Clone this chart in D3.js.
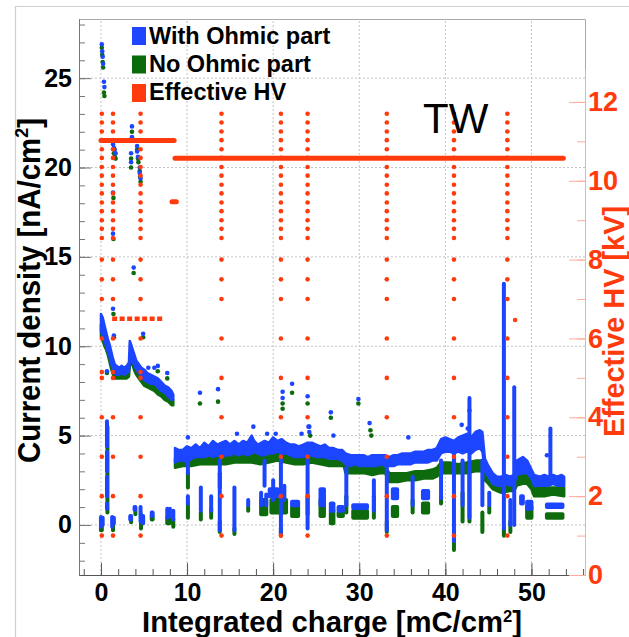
<!DOCTYPE html>
<html><head><meta charset="utf-8">
<script src="https://cdn.jsdelivr.net/npm/d3@7"></script>
<style>body{margin:0;background:#fff}svg{display:block}text{font-family:"Liberation Sans",Arial,Helvetica,sans-serif}</style>
</head><body><svg id="c" width="629" height="637"></svg>
<script>
// ---------------- data ----------------
const xTickVals = [0, 10, 20, 30, 40, 50];
const yTickVals = [0, 5, 10, 15, 20, 25];
const hvTickVals = [0, 2, 4, 6, 8, 10, 12];
const legendLabels = ["With Ohmic part", "No Ohmic part", "Effective HV"];
const xTitle = "Integrated charge [mC/cm";
const yTitle = "Current density [nA/cm";
const rTitle = "Effective HV [kV]";
const panelLabel = "TW";

// continuous bands [x, low, high]
const blueBand1 = [[0.0,10.8,11.8],[0.2,10.6,11.6],[0.4,10.3,11.2],[0.6,10.0,10.8],[0.8,9.7,10.4],[1.0,9.4,10.1],[1.2,9.0,9.7],[1.4,8.7,9.3],[1.6,8.5,9.0],[1.8,8.4,8.9],[2.1,8.4,8.8],[2.4,8.5,8.9],[2.7,8.4,8.8],[3.0,8.5,8.9],[3.25,8.6,9.1],[3.35,9.2,10.3],[3.5,9.4,10.1],[3.7,9.1,9.8],[3.9,8.9,9.5],[4.1,8.7,9.2],[4.4,8.5,9.0],[4.7,8.3,8.8],[5.0,8.1,8.7],[5.4,8.0,8.5],[5.8,7.9,8.4],[6.2,7.9,8.3],[6.6,7.7,8.2],[7.0,7.5,8.0],[7.4,7.4,7.8],[7.8,7.2,7.7],[8.2,7.0,7.5],[8.4,7.0,7.3]];
const greenBand1 = [[0.0,10.5,11.2],[0.2,10.3,10.9],[0.4,10.0,10.6],[0.6,9.8,10.3],[0.8,9.5,10.0],[1.0,9.1,9.6],[1.2,8.7,9.2],[1.4,8.4,8.9],[1.6,8.2,8.7],[1.8,8.2,8.5],[2.1,8.2,8.5],[2.4,8.2,8.6],[2.7,8.2,8.5],[3.0,8.2,8.6],[3.25,8.3,8.7],[3.35,8.9,9.6],[3.5,9.1,9.6],[3.7,8.9,9.3],[3.9,8.6,9.1],[4.1,8.4,8.9],[4.4,8.2,8.7],[4.7,8.0,8.5],[5.0,7.8,8.3],[5.4,7.7,8.2],[5.8,7.6,8.1],[6.2,7.5,8.0],[6.6,7.3,7.8],[7.0,7.2,7.6],[7.4,7.0,7.5],[7.8,6.9,7.3],[8.2,6.7,7.1],[8.4,6.7,7.0]];
const blueBand2 = [[8.6,3.5,4.3],[9.0,3.6,4.2],[9.5,3.6,4.2],[10.0,3.5,4.4],[10.5,3.7,4.3],[11.0,3.8,4.5],[11.5,3.8,4.3],[12.0,3.8,4.6],[12.5,3.9,4.4],[13.0,3.8,4.7],[13.5,3.9,4.5],[14.0,3.8,4.6],[14.5,3.9,4.7],[15.0,3.9,4.5],[15.5,4.0,4.7],[16.0,3.9,4.5],[16.5,4.0,4.7],[17.0,3.9,4.6],[17.5,4.0,5.0],[17.8,4.1,4.7],[18.2,4.0,4.5],[18.6,3.9,4.6],[19.0,3.9,4.7],[19.5,4.0,4.6],[20.0,4.0,4.9],[20.5,4.1,4.7],[21.0,4.0,4.8],[21.5,4.0,4.6],[22.0,3.9,4.5],[22.5,3.8,4.5],[23.0,3.8,4.4],[23.5,3.8,4.5],[24.0,3.9,4.6],[24.5,3.9,4.6],[25.0,3.8,4.5],[25.5,3.8,4.4],[26.0,3.8,4.5],[26.5,3.7,4.3],[27.0,3.7,4.3],[27.5,3.7,4.2],[28.0,3.6,4.2],[28.4,3.4,4.0],[29.0,3.3,3.9],[29.5,3.4,3.9],[30.0,3.3,3.9],[30.5,3.3,3.9],[31.0,3.3,3.8],[31.5,3.3,3.9],[32.0,3.3,3.9],[32.5,3.4,3.9],[33.0,3.3,3.9],[33.5,3.3,3.8],[34.0,3.3,3.9],[34.5,3.4,3.9],[35.0,3.4,4.0],[35.5,3.4,4.0],[36.0,3.4,4.0],[36.5,3.5,4.1],[37.0,3.5,4.1],[37.5,3.5,4.1],[38.0,3.5,4.2],[38.5,3.6,4.2],[39.0,3.6,4.3],[39.5,4.0,4.8],[40.0,4.1,4.9],[40.5,4.1,4.8],[41.0,4.0,4.7],[41.5,4.1,4.9],[42.0,4.0,5.0],[42.5,4.1,5.1],[43.0,4.0,4.9],[43.5,4.2,5.2],[44.0,4.3,5.3],[44.3,4.1,5.2],[44.6,3.0,3.7],[45.0,2.7,3.3],[45.5,2.3,2.9],[46.0,2.2,2.7],[46.5,2.2,2.7],[47.0,2.3,2.8],[47.5,2.2,2.7],[48.0,2.3,2.8],[48.3,2.8,3.6],[49.0,2.9,3.8],[49.5,2.9,3.6],[50.0,2.6,3.1],[50.3,2.2,2.8],[51.0,2.2,2.7],[51.5,2.2,2.8],[52.0,2.2,2.7],[52.5,2.3,2.8],[53.0,2.2,2.7],[53.5,2.2,2.8],[53.8,2.2,2.7]];
const greenBand2 = [[8.6,3.2,3.7],[9.5,3.3,3.7],[10.5,3.3,3.8],[11.5,3.4,3.8],[12.5,3.4,3.9],[13.5,3.4,3.9],[14.5,3.4,3.9],[15.5,3.5,4.0],[16.5,3.5,4.0],[17.5,3.5,4.0],[18.5,3.4,3.9],[19.5,3.5,4.0],[20.5,3.6,4.1],[21.5,3.5,4.0],[22.5,3.4,3.8],[23.5,3.4,3.8],[24.5,3.5,3.9],[25.5,3.4,3.8],[26.5,3.3,3.7],[27.5,3.3,3.7],[28.2,3.3,3.7],[28.4,2.9,3.4],[29.5,2.9,3.3],[30.5,2.9,3.3],[31.5,2.8,3.3],[32.5,2.9,3.3],[33.0,2.9,3.3],[33.5,2.4,2.9],[34.5,2.4,2.9],[35.5,2.5,2.9],[36.5,2.5,3.0],[37.5,2.6,3.0],[38.5,2.6,3.1],[39.0,2.7,3.2],[39.5,2.9,3.5],[40.5,2.9,3.5],[41.5,2.9,3.4],[42.5,2.9,3.5],[43.5,3.0,3.6],[44.3,3.0,3.6],[44.6,2.5,3.0],[45.0,2.3,2.8],[45.5,2.0,2.5],[46.0,1.9,2.3],[46.5,1.8,2.2],[47.5,1.9,2.3],[48.0,1.9,2.3],[48.3,2.2,2.8],[49.0,2.3,2.9],[49.5,2.3,2.8],[50.0,2.0,2.5],[50.3,1.6,2.1],[51.5,1.6,2.1],[52.5,1.7,2.1],[53.8,1.6,2.1]];

// vertical streaks [x, yLow, yHigh]
const blueStreaks = [[0.7,4.4,5.8],[0.7,3.0,4.1],[0.7,1.6,2.7],[0.7,0.9,1.2],[0.0,-0.1,0.45],[0.2,0.0,0.4],[1.3,-0.1,0.45],[1.5,0.1,0.4],[4.6,0.2,1.0],[4.9,0.1,0.5],[7.7,0.4,0.9],[8.0,0.5,0.9],[8.4,0.3,0.8],
[10.1,2.9,4.0],[10.1,1.2,1.6],[11.6,0.8,2.1],[12.8,0.8,1.6],[13.8,-0.3,3.6],[15.5,-0.3,2.1],[17.1,1.1,1.4],[18.6,1.1,1.8],[19.2,1.1,1.7],[19.0,2.2,3.6],[20.0,1.4,2.5],[21.3,1.4,2.2],[20.9,-0.5,3.9],[24.0,-0.2,3.7],[28.5,1.1,3.2],[31.7,0.8,2.5],[33.2,-0.3,3.6],[36.2,1.1,2.7],[39.5,1.5,3.6],[41.0,-0.9,4.5],[42.0,1.1,3.6],[42.8,0.4,7.1],[44.3,1.1,3.6],[45.1,1.1,1.8],[46.8,-0.2,13.5],[47.55,0.0,1.4],[48.0,0.0,7.7],[52.2,2.3,5.4]];
const greenStreaks = [[0.75,0.7,5.5],[1.4,-0.3,0.1],[4.65,-0.2,0.6],[8.4,-0.1,0.3],
[10.1,2.1,2.9],[10.1,0.4,1.2],[11.6,0.3,0.7],[12.8,0.4,0.9],[13.8,2.1,2.9],[13.8,-0.4,0.2],[15.5,-0.5,-0.2],[17.1,0.8,1.0],[20.9,-0.6,-0.2],[24.0,0.6,1.6],[28.5,0.7,1.6],[31.7,0.4,1.6],[33.2,-0.4,0.2],[36.2,0.7,1.4],[39.5,1.2,1.6],[41.0,-1.4,-0.4],[42.0,0.2,1.8],[42.8,0.2,3.0],[44.3,-0.4,0.7],[45.1,0.7,1.0],[46.8,-0.6,-0.2],[47.55,-0.4,0.2]];
// small clusters [x0, x1, yLow, yHigh]
const blueBlobs = [[3.4,3.5,0.3,0.5],[3.9,4.0,0.85,1.0],[5.9,6.0,0.5,0.7],[19.6,20.5,1.6,2.0],[22.2,22.9,1.1,1.3],[25.5,25.9,1.1,2.0],[26.7,27.0,0.8,1.2],[27.6,28.1,0.8,1.0],[29.3,30.9,0.95,1.1],[33.9,34.4,1.5,2.0],[37.4,38.0,1.5,1.9],[48.8,49.0,1.2,1.6],[49.5,50.0,0.9,1.3],[51.8,53.6,1.0,1.15]];
const greenBlobs = [[0.0,0.1,-0.3,0.0],[3.5,3.5,0.15,0.3],[4.0,4.0,0.6,0.8],[5.9,6.0,0.3,0.5],[7.7,8.0,0.1,0.4],[18.6,19.2,0.6,1.4],[19.8,21.5,0.7,1.4],[22.2,22.9,0.5,1.0],[25.5,25.9,0.5,1.4],[26.7,27.0,0.1,0.8],[27.6,28.1,0.5,0.7],[29.3,30.9,0.4,0.8],[33.9,34.4,0.5,1.0],[37.4,38.0,0.7,1.2],[49.5,50.0,0.4,1.0],[51.8,53.6,0.4,0.6]];

// isolated points [x, y]
const blueDots = [[0.1,26.9],[0.15,26.5],[0.2,26.2],[0.25,25.8],[0.35,24.8],[0.4,24.5],[1.4,21.3],[1.5,21.1],[1.6,21.0],[1.7,20.8],[1.4,18.6],[1.4,16.3],[1.4,12.1],[3.6,22.3],[3.6,21.7],[3.5,20.8],[3.5,20.3],[3.8,14.4],[4.2,21.2],[4.2,20.9],[4.3,20.6],[4.5,20.0],[4.5,19.7],[4.6,19.4],[1.5,10.6],[4.9,10.7],[0.7,8.6],[7.7,8.5],[6.6,8.9],[5.5,8.8],[6.2,8.8],[11.5,7.4],[13.6,7.6],[21.1,7.45],[21.1,7.1],[22.2,7.9],[24.0,7.2],[24.2,5.5],[24.2,5.2],[26.7,6.3],[27.0,5.0],[29.9,7.05],[31.2,5.7],[35.7,4.9],[51.8,3.9],[10.1,4.9],[15.8,5.1],[17.7,5.5],[19.3,5.1],[20.3,5.1],[23.3,5.1],[24.1,5.5],[41.9,5.6],[42.6,5.4]];
const greenDots = [[0.1,26.7],[0.15,26.3],[0.2,25.9],[0.25,25.6],[0.35,24.2],[0.4,24.0],[1.5,20.8],[1.6,20.6],[1.7,20.5],[1.45,18.3],[1.45,16.0],[1.45,11.8],[3.6,22.0],[3.5,20.5],[3.5,20.0],[3.8,14.1],[4.2,21.0],[4.3,20.5],[4.35,20.3],[4.5,19.8],[4.55,19.5],[4.6,19.2],[1.5,10.5],[4.9,10.5],[0.7,8.5],[7.7,8.2],[6.6,8.6],[11.5,6.8],[13.6,6.9],[21.1,6.8],[21.1,6.5],[22.2,7.4],[24.0,6.8],[24.3,5.0],[26.7,6.0],[29.9,6.8],[31.3,5.3],[31.4,5.0],[42.8,6.4]];

// effective HV [kV]
const hvScanX = [0.1, 1.4, 4.6, 14.0, 20.9, 24.0, 33.2, 41.0, 47.2];
const hvScanLevels = [1,2,3,4,5,6,7,7.5,8,8.55,8.78,9.0,9.23,9.45,9.68,9.9,10.13,10.35,10.58,10.8,11.03,11.25,11.48,11.7];
const hvEarlyScanX = [0.1, 1.4, 4.6];
const hvEarlyExtra = [5.15];
const hvSteady = [[0.0,8.5,11.02],[8.6,53.7,10.57],[8.25,8.75,9.47]]; // [x0, x1, kV]
const hvDotted = [[1.3,7.2,6.5]];
const hvSingles = [[48.1,6.47]];

// ---------------- drawing ----------------
const svg = d3.select("#c");
const BLUE = "#1f45ff", GREEN = "#0b6b0b", RED = "#ff3a0c";
const x = d3.scaleLinear().domain([-2.55, 56.22]).range([79, 585]);
const y = d3.scaleLinear().domain([-2.8, 28.31]).range([575, 19]);
const yR = d3.scaleLinear().domain([0, 12.81]).range([575, 70]);

const defs = svg.append("defs");
defs.append("filter").attr("id", "soft").append("feGaussianBlur").attr("stdDeviation", 0.45);

// outer pad frame
svg.append("path").attr("d", "M15.5,637V6.5H629").attr("fill", "none").attr("stroke", "#cfcfcf").attr("stroke-width", 1.2);

// grid
const grid = svg.append("g").attr("stroke", "#c4c4c4").attr("stroke-width", 1).attr("stroke-dasharray", "2,2");
grid.selectAll(".gx").data(xTickVals).join("line").attr("x1", d => x(d)).attr("x2", d => x(d)).attr("y1", 575).attr("y2", 19);
grid.selectAll(".gy").data(yTickVals).join("line").attr("y1", d => y(d)).attr("y2", d => y(d)).attr("x1", 79).attr("x2", 585);

// frame top/right
svg.append("path").attr("d", "M79,19.5H585.5V70").attr("fill", "none").attr("stroke", "#aaa").attr("stroke-width", 1);

const marks = svg.append("g").attr("filter", "url(#soft)");
const area = d3.area().x(d => x(d[0])).y0(d => y(d[1])).y1(d => y(d[2]));
function band(data, col) {
  marks.append("path").datum(data).attr("d", area).attr("fill", col).attr("stroke", col).attr("stroke-width", 2.5).attr("stroke-linejoin", "round");
}
function streaks(data, col) {
  marks.append("g").selectAll("line").data(data).join("line")
    .attr("x1", d => x(d[0])).attr("x2", d => x(d[0])).attr("y1", d => y(d[1])).attr("y2", d => y(d[2]))
    .attr("stroke", col).attr("stroke-width", 4).attr("stroke-linecap", "round");
}
function blobs(data, col) {
  marks.append("g").selectAll("rect").data(data).join("rect")
    .attr("x", d => x(d[0]) - 2).attr("width", d => x(d[1]) - x(d[0]) + 4)
    .attr("y", d => y(d[3]) - 2).attr("height", d => y(d[2]) - y(d[3]) + 4)
    .attr("rx", 2).attr("fill", col);
}
function dots(data, col) {
  marks.append("g").selectAll("circle").data(data).join("circle")
    .attr("cx", d => x(d[0])).attr("cy", d => y(d[1])).attr("r", 2.3).attr("fill", col);
}
band(greenBand1, GREEN); band(greenBand2, GREEN);
streaks(greenStreaks, GREEN); blobs(greenBlobs, GREEN); dots(greenDots, GREEN);
band(blueBand1, BLUE); band(blueBand2, BLUE);
streaks(blueStreaks, BLUE); blobs(blueBlobs, BLUE); dots(blueDots, BLUE);

// HV
const hv = marks.append("g").attr("fill", RED);
hvScanX.forEach(sx => {
  hv.append("g").selectAll("circle").data(hvScanLevels).join("circle").attr("cx", x(sx)).attr("cy", d => yR(d)).attr("r", 2.3);
});
hvEarlyScanX.forEach(sx => {
  hv.append("g").selectAll("circle").data(hvEarlyExtra).join("circle").attr("cx", x(sx)).attr("cy", d => yR(d)).attr("r", 2.3);
});
hv.append("g").selectAll("circle").data(hvSingles).join("circle").attr("cx", d => x(d[0])).attr("cy", d => yR(d[1])).attr("r", 2.3);
marks.append("g").selectAll("line").data(hvSteady).join("line")
  .attr("x1", d => x(d[0])).attr("x2", d => x(d[1])).attr("y1", d => yR(d[2])).attr("y2", d => yR(d[2]))
  .attr("stroke", RED).attr("stroke-width", 5).attr("stroke-linecap", "round");
marks.append("g").selectAll("line").data(hvDotted).join("line")
  .attr("x1", d => x(d[0])).attr("x2", d => x(d[1])).attr("y1", d => yR(d[2])).attr("y2", d => yR(d[2]))
  .attr("stroke", RED).attr("stroke-width", 4.5).attr("stroke-dasharray", "5,2.5");

// axes
function styleAxis(g, col, fs, tcol) {
  g.selectAll("path,line").attr("stroke", col);
  g.selectAll("text").attr("font-size", fs).attr("font-weight", "bold").attr("fill", tcol)
    .attr("font-family", '"Liberation Sans",Arial,sans-serif');
}
const gL = svg.append("g").attr("transform", "translate(79,0)");
gL.append("g").call(d3.axisLeft(y).tickValues(y.ticks(30)).tickSizeInner(-6).tickSizeOuter(0).tickFormat(""));
gL.append("g").call(d3.axisLeft(y).tickValues(yTickVals).tickSizeInner(-12).tickSizeOuter(0).tickPadding(7));
styleAxis(gL, "#777", 25, "#000");

const gB = svg.append("g").attr("transform", "translate(0,575)");
gB.append("g").call(d3.axisBottom(x).tickValues(x.ticks(30)).tickSizeInner(-6).tickSizeOuter(0).tickFormat(""));
gB.append("g").call(d3.axisBottom(x).tickValues(xTickVals).tickSizeInner(-12).tickSizeOuter(0).tickPadding(8));
styleAxis(gB, "#555", 25, "#000");

const gR = svg.append("g").attr("transform", "translate(585,0)");
gR.append("g").call(d3.axisRight(yR).tickValues(yR.ticks(13)).tickSizeInner(-8).tickSizeOuter(0).tickFormat(""));
gR.append("g").call(d3.axisRight(yR).tickValues(hvTickVals).tickSizeInner(-16).tickSizeOuter(0).tickPadding(3));
styleAxis(gR, "#ffab9c", 27, RED);

// titles
const t1 = svg.append("text").attr("x", 142).attr("y", 632).attr("font-size", 30).attr("font-weight", "bold")
  .attr("textLength", 380).attr("lengthAdjust", "spacingAndGlyphs");
t1.append("tspan").text(xTitle);
t1.append("tspan").attr("dy", -10).attr("font-size", 17).text("2");
t1.append("tspan").attr("dy", 10).text("]");

const t2 = svg.append("text").attr("transform", "translate(40,463) rotate(-90)").attr("font-size", 31).attr("font-weight", "bold")
  .attr("textLength", 345).attr("lengthAdjust", "spacingAndGlyphs");
t2.append("tspan").text(yTitle);
t2.append("tspan").attr("dy", -12).attr("font-size", 19).text("2");
t2.append("tspan").attr("dy", 12).text("]");

svg.append("text").attr("transform", "translate(624,437) rotate(-90)").attr("font-size", 30).attr("font-weight", "bold")
  .attr("fill", RED).attr("textLength", 231).attr("lengthAdjust", "spacingAndGlyphs").text(rTitle);

svg.append("text").attr("x", 423).attr("y", 133).attr("font-size", 42).attr("fill", "#000").text(panelLabel);

// legend
const legCols = [BLUE, GREEN, RED];
const lg = svg.append("g");
legendLabels.forEach((lab, i) => {
  lg.append("rect").attr("x", 132).attr("y", 27 + i * 28.5).attr("width", 14).attr("height", 18).attr("fill", legCols[i]);
  lg.append("text").attr("x", 149).attr("y", 44 + i * 28).attr("font-size", 23.5).attr("font-weight", "bold").text(lab);
});
</script>
</body></html>
